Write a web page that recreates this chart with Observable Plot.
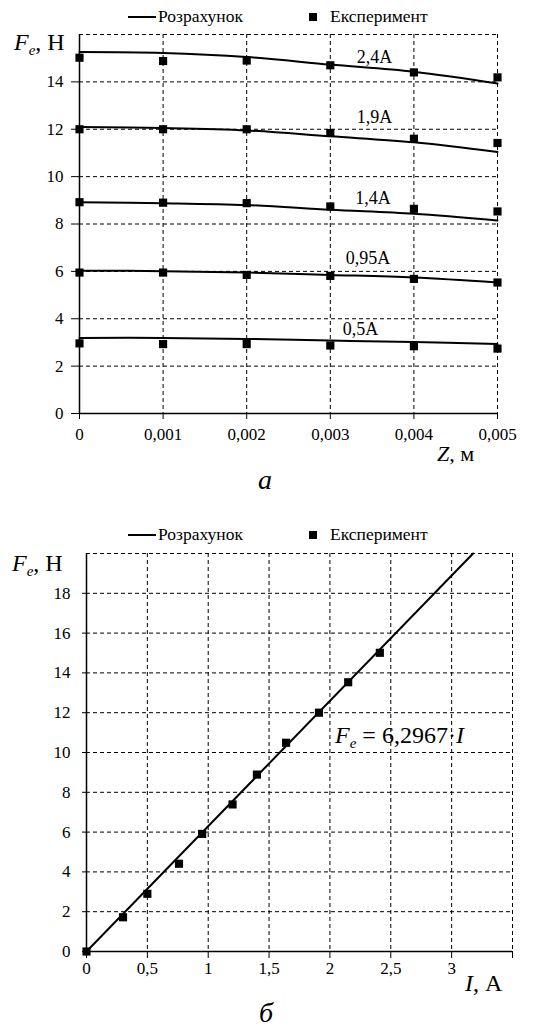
<!DOCTYPE html>
<html><head><meta charset="utf-8">
<script src="https://cdn.jsdelivr.net/npm/d3@7"></script>
<script src="https://cdn.jsdelivr.net/npm/@observablehq/plot@0.6"></script>
<style>
body{margin:0;background:#fff;}
#root{position:relative;width:547px;height:1028px;font-family:"Liberation Serif","Times New Roman","Tinos","DejaVu Serif",serif;color:#000;overflow:hidden;background:#fff;}
.abs{position:absolute;white-space:nowrap;line-height:1;}
.leg{font-size:17.5px;}
.sym-line{position:absolute;height:2px;background:#000;}
.sym-sq{position:absolute;width:8px;height:8px;background:#000;}
sub{font-size:15px;vertical-align:baseline;position:relative;top:5px;font-style:italic;}
svg{position:absolute;left:0;}
</style></head><body><div id="root"></div>
<script>
// ---- Chart a: F_e vs z for several currents ----
const zA = [0, 0.001, 0.002, 0.003, 0.004, 0.005];
const currentLabels = ["2,4A", "1,9A", "1,4A", "0,95A", "0,5A"];
const calc_2_4  = [15.26, 15.22, 15.05, 14.73, 14.43, 13.93];
const exp_2_4   = [15.02, 14.88, 14.90, 14.70, 14.40, 14.19];
const calc_1_9  = [12.09, 12.05, 11.95, 11.70, 11.45, 11.04];
const exp_1_9   = [12.00, 12.00, 12.00, 11.84, 11.60, 11.42];
const calc_1_4  = [8.92, 8.88, 8.80, 8.60, 8.43, 8.15];
const exp_1_4   = [8.92, 8.90, 8.88, 8.74, 8.64, 8.53];
const calc_0_95 = [6.03, 6.01, 5.95, 5.85, 5.74, 5.53];
const exp_0_95  = [5.95, 5.95, 5.85, 5.81, 5.68, 5.53];
const calc_0_5  = [3.19, 3.19, 3.15, 3.08, 3.02, 2.93];
const exp_0_5   = [2.96, 2.93, 2.93, 2.87, 2.84, 2.74];
const labelZ = [0.00353, 0.00353, 0.00351, 0.00345, 0.00336];
const labelF = [15.04, 12.5, 9.07, 6.54, 3.54];
const xTicksA = [0, 0.001, 0.002, 0.003, 0.004, 0.005];
const yTicksA = [0, 2, 4, 6, 8, 10, 12, 14, 16];

// ---- Chart b: F_e vs I ----
const I_exp = [0, 0.30, 0.50, 0.76, 0.95, 1.20, 1.40, 1.64, 1.91, 2.15, 2.41];
const F_exp = [0, 1.72, 2.90, 4.41, 5.91, 7.39, 8.89, 10.49, 12.00, 13.53, 15.01];
const I_calc = [0, 3.176];
const F_calc = [0, 20];
const xTicksB = [0, 0.5, 1, 1.5, 2, 2.5, 3, 3.5];
const yTicksB = [0, 2, 4, 6, 8, 10, 12, 14, 16, 18, 20];

const FONT = "'Liberation Serif','Times New Roman','Tinos','DejaVu Serif',serif";
const comma = d => String(d).replace(".", ",");
const root = document.getElementById("root");
function add(html, style, cls) {
  const el = document.createElement("div");
  el.className = "abs " + (cls || "");
  el.innerHTML = html;
  Object.assign(el.style, style);
  root.appendChild(el);
  return el;
}

const calcSeries = [calc_2_4, calc_1_9, calc_1_4, calc_0_95, calc_0_5];
const expSeries = [exp_2_4, exp_1_9, exp_1_4, exp_0_95, exp_0_5];
const calcA = calcSeries.flatMap((s, i) => s.map((F, j) => ({z: zA[j], F, series: currentLabels[i]})));
const expA = expSeries.flatMap((s, i) => s.map((F, j) => ({z: zA[j], F, series: currentLabels[i]})));
const labA = currentLabels.map((t, i) => ({z: labelZ[i], F: labelF[i], t}));

const grid = {stroke: "#000", strokeWidth: 1, strokeDasharray: "4,3", strokeOpacity: 1};
const baseStyle = {fontFamily: FONT, fontSize: "17px", color: "#000", background: "transparent", overflow: "visible"};

const plotA = Plot.plot({
  width: 547, height: 437,
  marginTop: 8, marginLeft: 79, marginRight: 50, marginBottom: 50,
  style: baseStyle,
  x: {domain: [0, 0.005]},
  y: {domain: [0, 16]},
  marks: [
    Plot.ruleX(xTicksA.filter(d => d > 0), {x: d => d, ...grid}),
    Plot.ruleY(yTicksA.filter(d => d > 0), {y: d => d, ...grid}),
    Plot.axisX(xTicksA, {tickSize: 6, tickPadding: 8, tickFormat: comma, fontSize: 17, label: null, strokeWidth: 1}),
    Plot.axisY(yTicksA.filter(d => d < 16), {tickSize: 8, tickPadding: 8, tickFormat: comma, fontSize: 17, label: null, strokeWidth: 1}),
    Plot.ruleY([0], {stroke: "#000", strokeWidth: 1.5}),
    Plot.ruleX([0], {stroke: "#000", strokeWidth: 1.5}),
    Plot.line(calcA, {x: "z", y: "F", z: "series", curve: "catmull-rom", stroke: "#000", strokeWidth: 2}),
    Plot.dot(expA, {x: "z", y: "F", symbol: "square", r: 4.6, fill: "#000", stroke: null}),
    Plot.text(labA, {x: "z", y: "F", text: "t", fontSize: 18, fill: "#000"})
  ]
});
plotA.style.top = "26px";
root.appendChild(plotA);

const calcB = I_calc.map((I, i) => ({I, F: F_calc[i]}));
const expB = I_exp.map((I, i) => ({I, F: F_exp[i]}));
const plotB = Plot.plot({
  width: 547, height: 451,
  marginTop: 8, marginLeft: 86, marginRight: 35, marginBottom: 45,
  style: baseStyle,
  x: {domain: [0, 3.5]},
  y: {domain: [0, 20]},
  marks: [
    Plot.ruleX(xTicksB.filter(d => d > 0), {x: d => d, ...grid}),
    Plot.ruleY(yTicksB.filter(d => d > 0), {y: d => d, ...grid}),
    Plot.axisX(xTicksB, {tickSize: 7, tickPadding: 3, tickFormat: d => d === 3.5 ? "" : comma(d), fontSize: 17, label: null, strokeWidth: 1}),
    Plot.axisY(yTicksB.filter(d => d < 20), {tickSize: 4, tickPadding: 12, tickFormat: comma, fontSize: 17, label: null, strokeWidth: 1}),
    Plot.ruleY([0], {stroke: "#000", strokeWidth: 1.5}),
    Plot.ruleX([0], {stroke: "#000", strokeWidth: 1.5}),
    Plot.line(calcB, {x: "I", y: "F", stroke: "#000", strokeWidth: 2}),
    Plot.dot(expB, {x: "I", y: "F", symbol: "square", r: 4.6, fill: "#000", stroke: null})
  ]
});
plotB.style.top = "545px";
root.appendChild(plotB);

// Legends
function legend(top) {
  const l = document.createElement("div");
  l.className = "sym-line"; l.style.left = "128px"; l.style.width = "28px"; l.style.top = (top - 1) + "px";
  root.appendChild(l);
  add("Розрахунок", {left: "158px", top: (top - 9) + "px"}, "leg");
  const s = document.createElement("div");
  s.className = "sym-sq"; s.style.left = "309px"; s.style.top = (top - 4) + "px";
  root.appendChild(s);
  add("Експеримент", {left: "330px", top: (top - 9) + "px"}, "leg");
}
legend(17);
legend(535);

// Axis labels
const fLabel = "<i>F</i><sub>e</sub>, Н";
add(fLabel, {left: "14px", top: "30px", fontSize: "24px"});
add(fLabel, {left: "12px", top: "551px", fontSize: "24px"});
add("<i>Z</i>, м", {left: "437px", top: "443px", fontSize: "22px"});
add("<i>I</i>, А", {left: "465px", top: "971px", fontSize: "24px"});
add("<i>F</i><sub>e</sub> = 6,2967·<i>I</i>", {left: "335px", top: "723px", fontSize: "24px"});

// Captions
add("<i>a</i>", {left: "258px", top: "466px", fontSize: "28px"});
add("<i>б</i>", {left: "259px", top: "999px", fontSize: "28px"});
</script>
</body></html>
